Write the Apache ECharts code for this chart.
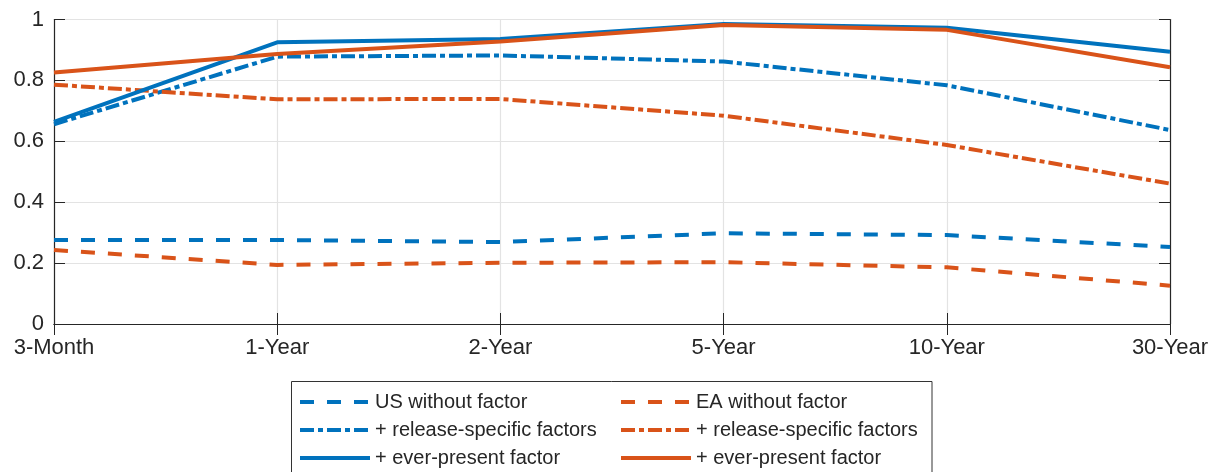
<!DOCTYPE html>
<html>
<head>
<meta charset="utf-8">
<script src="https://cdn.jsdelivr.net/npm/echarts@6/dist/echarts.min.js"></script>
<style>
  html, body { margin: 0; padding: 0; background: #fff; }
  #chart { width: 1215px; height: 472px; }
</style>
</head>
<body>
<div id="chart"></div>
<script>
var maturities = ["3-Month", "1-Year", "2-Year", "5-Year", "10-Year", "30-Year"];

var usNoFactor = [0.276, 0.276, 0.269, 0.298, 0.292, 0.253];
var eaNoFactor = [0.243, 0.194, 0.201, 0.203, 0.186, 0.126];
var usRelease  = [0.656, 0.878, 0.882, 0.862, 0.784, 0.637];
var eaRelease  = [0.786, 0.738, 0.739, 0.684, 0.588, 0.461];
var usEver     = [0.664, 0.925, 0.936, 0.985, 0.973, 0.894];
var eaEver     = [0.826, 0.887, 0.928, 0.982, 0.966, 0.843];

var blue = "#0072BD";
var orange = "#D95319";
var dark = "#262626";
var dashed = [14, 13];
var dashdot = [14, 4, 5, 4];

function line(name, data, color, type) {
    return {
        name: name,
        type: "line",
        data: data,
        symbol: "none",
        xAxisIndex: 0,
        yAxisIndex: 0,
        lineStyle: { color: color, width: 4, type: type, cap: "butt" },
        itemStyle: { color: color },
        emphasis: { disabled: true }
    };
}

var myChart = echarts.init(document.getElementById("chart"));

var legendBase = {
    orient: "vertical",
    top: 392,
    height: 80,
    padding: 0,
    itemWidth: 70,
    itemHeight: 20,
    itemGap: 8,
    itemTextGap: 6,
    selectedMode: false,
    itemStyle: { opacity: 0 },
    lineStyle: { width: 4 },
    textStyle: { fontFamily: "Liberation Sans", fontSize: 20, lineHeight: 20, color: dark }
};

var option = {
    animation: false,
    backgroundColor: "#fff",
    textStyle: { fontFamily: "Liberation Sans" },
    grid: { left: 54, right: 45, top: 19.5, bottom: 148 },
    legend: [
        Object.assign({}, legendBase, {
            left: 298,
            data: ["US without factor", "US + release-specific factors", "US + ever-present factor"],
            formatter: function (n) { return n.replace(/^US \+/, "+"); }
        }),
        Object.assign({}, legendBase, {
            left: 619,
            data: ["EA without factor", "EA + release-specific factors", "EA + ever-present factor"],
            formatter: function (n) { return n.replace(/^EA \+/, "+"); }
        })
    ],
    graphic: [
        {
            type: "rect",
            shape: { x: 291.5, y: 381.5, width: 640.5, height: 100 },
            style: { fill: "none", stroke: "#333", lineWidth: 1 },
            silent: true
        }
    ],
    xAxis: [
        {
            type: "category",
            data: maturities,
            boundaryGap: false,
            axisLine: { lineStyle: { color: dark, width: 1.2 } },
            axisTick: { inside: true, length: 11, lineStyle: { color: dark } },
            axisLabel: { fontSize: 22, color: dark, margin: 13, fontFamily: "Liberation Sans" },
            splitLine: { show: true, lineStyle: { color: "#e3e3e3", width: 1.2 } }
        },
        {
            type: "category",
            data: maturities,
            position: "top",
            boundaryGap: false,
            axisLine: { show: true, lineStyle: { color: dark, width: 1.2 } },
            axisTick: { inside: true, length: 11, lineStyle: { color: dark } },
            axisLabel: { show: false },
            splitLine: { show: false }
        }
    ],
    yAxis: [
        {
            type: "value",
            min: 0,
            max: 1,
            interval: 0.2,
            axisLine: { show: true, lineStyle: { color: dark, width: 1.2 } },
            axisTick: { show: true, inside: true, length: 11, lineStyle: { color: dark } },
            axisLabel: { fontSize: 22, color: dark, margin: 10, fontFamily: "Liberation Sans" },
            splitLine: { show: true, lineStyle: { color: "#e3e3e3", width: 1.2 } }
        },
        {
            type: "value",
            min: 0,
            max: 1,
            interval: 0.2,
            position: "right",
            axisLine: { show: true, lineStyle: { color: dark, width: 1.2 } },
            axisTick: { show: true, inside: true, length: 11, lineStyle: { color: dark } },
            axisLabel: { show: false },
            splitLine: { show: false }
        }
    ],
    series: [
        line("US without factor", usNoFactor, blue, dashed),
        line("EA without factor", eaNoFactor, orange, dashed),
        line("US + release-specific factors", usRelease, blue, dashdot),
        line("EA + release-specific factors", eaRelease, orange, dashdot),
        line("US + ever-present factor", usEver, blue, "solid"),
        line("EA + ever-present factor", eaEver, orange, "solid")
    ]
};

myChart.setOption(option);
</script>
</body>
</html>
